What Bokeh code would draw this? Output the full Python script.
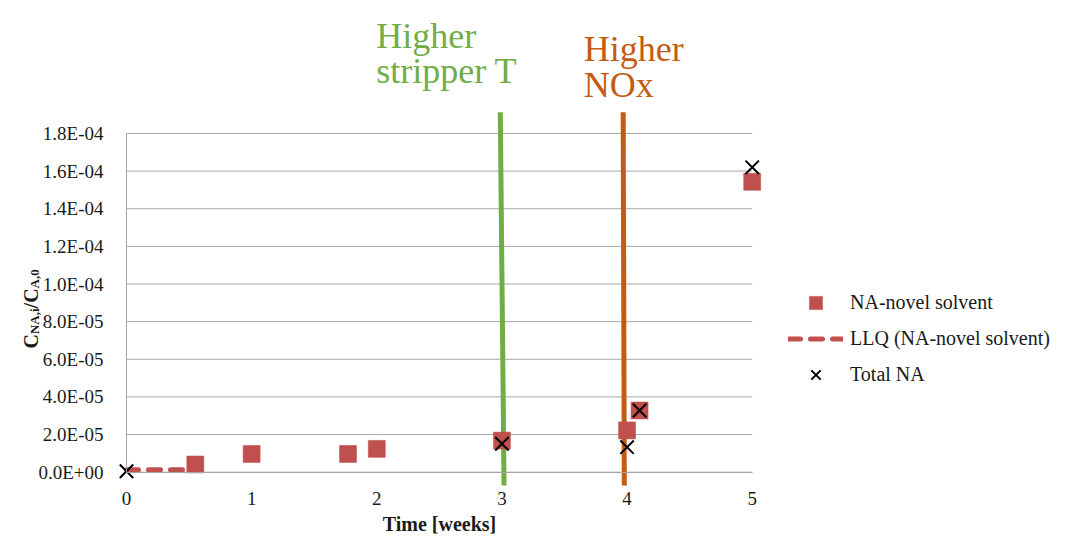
import math
from bokeh.plotting import figure
from bokeh.models import (Range1d, LinearAxis, FixedTicker, Label, Legend,
                          LegendItem)
from bokeh.embed import file_html
from bokeh.resources import INLINE

# ---------------- data ----------------
novel_weeks = [0.55, 1.0, 1.77, 2.0, 3.0, 4.0, 4.1, 5.0]
novel_vals = [4.1e-6, 9.7e-6, 9.7e-6, 1.24e-5, 1.68e-5, 2.22e-5, 3.28e-5, 1.543e-4]

llq_weeks = [0.0, 0.55]
llq_vals = [1.3e-6, 1.3e-6]

total_weeks = [0.0, 3.0, 4.0, 4.1, 5.0]
total_vals = [5e-7, 1.51e-5, 1.33e-5, 3.28e-5, 1.62e-4]

# event marker lines (hand-drawn in the original): top / bottom week positions
event_names = ["Higher stripper T", "Higher NOx"]
event_x_top = [2.987, 3.969]
event_x_bottom = [3.017, 3.978]
event_y_top = [1.913e-4, 1.913e-4]
event_y_bottom = [-7.1e-6, -7.1e-6]

x_ticks = [0, 1, 2, 3, 4, 5]
y_ticks = [0.0, 2e-05, 4e-05, 6e-05, 8e-05, 1e-04, 1.2e-04, 1.4e-04, 1.6e-04, 1.8e-04]
y_tick_labels = ["0.0E+00", "2.0E-05", "4.0E-05", "6.0E-05", "8.0E-05",
                 "1.0E-04", "1.2E-04", "1.4E-04", "1.6E-04", "1.8E-04"]

# ---------------- layout ----------------
W, H = 1067, 541
PX_X0 = 126.0          # pixel column of week 0
PX_PER_WEEK = 125.14
PX_Y0 = 471.7          # pixel row of value 0
PX_PER_UNIT = 1.882e6

x_range = Range1d(-PX_X0 / PX_PER_WEEK, (W - PX_X0) / PX_PER_WEEK)
y_range = Range1d(-(H - PX_Y0) / PX_PER_UNIT, PX_Y0 / PX_PER_UNIT)

FONT = "Liberation Serif"
RED = "#C0504D"
GREEN = "#70AD47"
ORANGE = "#C55A11"
GRID = "#A6A6A6"
TXT = "#1a1a1a"

p = figure(frame_width=W, frame_height=H, min_border=0,
           x_axis_type=None, y_axis_type=None,
           x_range=x_range, y_range=y_range,
           toolbar_location=None, output_backend="svg")
p.outline_line_color = None
p.background_fill_color = "white"

# gridlines limited to the plot area [0, 5]
p.segment(x0=[x_ticks[0]] * len(y_ticks), x1=[x_ticks[-1]] * len(y_ticks),
          y0=y_ticks, y1=y_ticks, line_color=GRID, line_width=1)

# axes at data location 0
xaxis = LinearAxis(fixed_location=0, bounds=(x_ticks[0], x_ticks[-1]),
                   ticker=FixedTicker(ticks=x_ticks, minor_ticks=[]),
                   axis_label="Time [weeks]")
xaxis.axis_line_color = GRID
xaxis.major_tick_line_color = None
xaxis.minor_tick_line_color = None
xaxis.major_label_text_font = FONT
xaxis.major_label_text_font_size = "19px"
xaxis.major_label_text_color = TXT
xaxis.major_label_standoff = 14
xaxis.axis_label_text_font = FONT
xaxis.axis_label_text_font_size = "20px"
xaxis.axis_label_text_font_style = "bold"
xaxis.axis_label_text_color = TXT
xaxis.axis_label_standoff = 4
p.add_layout(xaxis, "below")

yaxis = LinearAxis(fixed_location=0, bounds=(y_ticks[0], y_ticks[-1]),
                   ticker=FixedTicker(ticks=y_ticks, minor_ticks=[]),
                   major_label_overrides=dict(zip(y_ticks, y_tick_labels)))
yaxis.axis_line_color = GRID
yaxis.major_tick_line_color = None
yaxis.minor_tick_line_color = None
yaxis.major_label_text_font = FONT
yaxis.major_label_text_font_size = "19px"
yaxis.major_label_text_color = TXT
yaxis.major_label_standoff = 17
p.add_layout(yaxis, "left")

# event lines
for xt, xb, yt, yb, c in zip(event_x_top, event_x_bottom, event_y_top, event_y_bottom,
                             [GREEN, ORANGE]):
    p.segment(x0=[xt], y0=[yt], x1=[xb], y1=[yb], line_color=c, line_width=5)

# series
llq = p.line(llq_weeks, llq_vals, line_color=RED, line_width=5,
             line_dash="12 10", line_cap="round")
sq = p.scatter(novel_weeks, novel_vals, marker="square", size=17,
               fill_color=RED, line_color=RED, line_width=0.5)
xr = p.scatter(total_weeks, total_vals, marker="x", size=19,
               line_color="black", line_width=2)

legend = Legend(items=[
    LegendItem(label="NA-novel solvent", renderers=[sq]),
    LegendItem(label="LLQ (NA-novel solvent)", renderers=[llq]),
    LegendItem(label="Total NA", renderers=[xr]),
], location=(788, 150.5))
legend.glyph_width = 55
legend.glyph_height = 33
legend.label_height = 33
legend.spacing = 3
legend.padding = 0
legend.margin = 0
legend.label_standoff = 7
legend.border_line_color = None
legend.background_fill_alpha = 0
legend.label_text_font = FONT
legend.label_text_font_size = "20px"
legend.label_text_color = TXT
p.add_layout(legend)

# event headings
def heading(text, x, y, color):
    p.add_layout(Label(x=x, y=y, x_units="screen", y_units="screen", text=text,
                       text_font=FONT, text_font_size="36px", text_color=color,
                       text_baseline="alphabetic", text_align="left"))

heading("Higher", 375.7, H - 35, GREEN)
heading("stripper T", 375.7, H - 70.5, GREEN)
heading("Higher", 583.3, H - 48.3, ORANGE)
heading("NOx", 583.3, H - 84, ORANGE)

# y-axis title  C_{NA,i}/C_{A,0}  (rotated, with subscripts)
pieces = [("C", False), ("NA,i", True), ("/C", False), ("A,0", True)]
em = {"C": 0.722, "N": 0.722, "A": 0.722, ",": 0.25, "i": 0.278, "/": 0.278, "0": 0.5}
main_size, sub_size = 20, 13
pos = H - 348
for txt, sub in pieces:
    fs = sub_size if sub else main_size
    p.add_layout(Label(x=34 if sub else 30, y=pos, x_units="screen", y_units="screen",
                       text=txt, angle=math.pi / 2, text_font=FONT,
                       text_font_size=f"{fs}px", text_font_style="bold",
                       text_color=TXT, text_baseline="alphabetic",
                       text_align="left"))
    pos += sum(em[ch] for ch in txt) * fs

open("out.html", "w").write(file_html(p, INLINE))
